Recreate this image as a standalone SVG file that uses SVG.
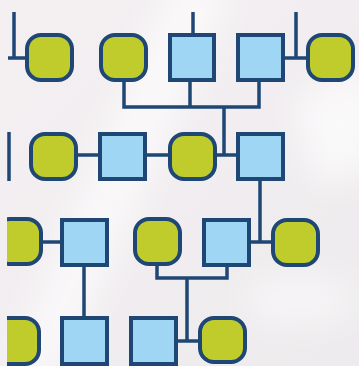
<svg xmlns="http://www.w3.org/2000/svg" width="359" height="366" viewBox="0 0 359 366">
<defs>
<style>
.f{fill:#BFCC2C;stroke:#1E4775;stroke-width:4}
.m{fill:#9ED6F4;stroke:#1E4775;stroke-width:4}
.c{fill:none;stroke:#1E4775;stroke-width:3.5}
</style>
<linearGradient id="bg" x1="0" y1="0" x2="1" y2="1">
<stop offset="0" stop-color="#F4F0F2"/>
<stop offset="0.5" stop-color="#F1EDF0"/>
<stop offset="1" stop-color="#EDEBED"/>
</linearGradient>
<filter id="blur" x="-50%" y="-50%" width="200%" height="200%"><feGaussianBlur stdDeviation="18"/></filter>
<clipPath id="clipL"><rect x="7" y="0" width="352" height="366"/></clipPath>
</defs>
<rect width="359" height="366" fill="url(#bg)"/>
<g filter="url(#blur)" fill="#FFFFFF">
<polygon points="170,-20 240,-20 60,380 0,380" opacity="0.6"/>
<polygon points="290,100 380,60 380,160 320,190" opacity="0.7"/>
<ellipse cx="300" cy="300" rx="60" ry="25" opacity="0.5"/>
</g>
<g id="connectors">
<path class="c" d="M14 12V58M8 58H27"/>
<path class="c" d="M124 82V107H259V81M190 81V107M224 107V155"/>
<path class="c" d="M193 12V35"/>
<path class="c" d="M296 12V58M284 58H308"/>
<path class="c" d="M9 132V181"/>
<path class="c" d="M78 155H100M147 155H170M215 155H238"/>
<path class="c" d="M260 181V242M251 242H273"/>
<path class="c" d="M43 242H62"/>
<path class="c" d="M84 266V318"/>
<path class="c" d="M157 266V278H227V266M187 278V341M178 341H200"/>
</g>
<g id="f1"><rect class="f" x="27" y="35" width="45" height="45" rx="14"/></g>
<g id="f2"><rect class="f" x="101" y="35" width="45" height="45" rx="14"/></g>
<g id="m1"><rect class="m" x="170" y="35" width="44" height="45"/></g>
<g id="m2"><rect class="m" x="238" y="35" width="45" height="45"/></g>
<g id="f3"><rect class="f" x="308" y="35" width="45" height="45" rx="14"/></g>
<g id="f4"><rect class="f" x="31" y="134" width="45" height="45" rx="14"/></g>
<g id="m3"><rect class="m" x="100" y="134" width="45" height="45"/></g>
<g id="f5"><rect class="f" x="170" y="134" width="45" height="45" rx="14"/></g>
<g id="m4"><rect class="m" x="238" y="134" width="45" height="45"/></g>
<g id="f6" clip-path="url(#clipL)"><rect class="f" x="-4" y="219" width="45" height="45" rx="14"/></g>
<g id="m5"><rect class="m" x="62" y="220" width="45" height="45"/></g>
<g id="f7"><rect class="f" x="135" y="219" width="45" height="45" rx="14"/></g>
<g id="m6"><rect class="m" x="204" y="220" width="45" height="45"/></g>
<g id="f8"><rect class="f" x="273" y="220" width="45" height="45" rx="14"/></g>
<g id="f9" clip-path="url(#clipL)"><rect class="f" x="-6" y="318" width="45" height="46" rx="14"/></g>
<g id="m7"><rect class="m" x="62" y="318" width="45" height="46"/></g>
<g id="m8"><rect class="m" x="131" y="318" width="45" height="46"/></g>
<g id="f10"><rect class="f" x="200" y="318" width="45" height="44" rx="14"/></g>
</svg>
